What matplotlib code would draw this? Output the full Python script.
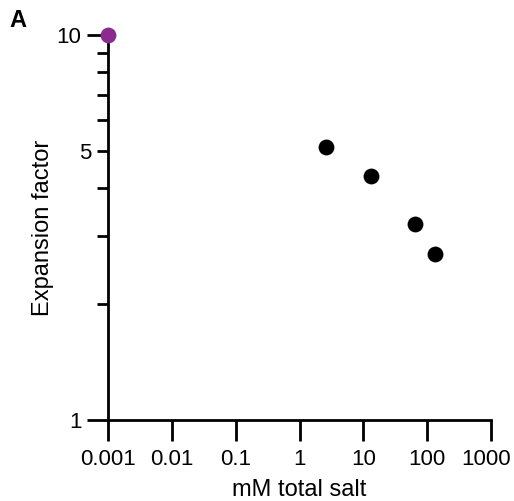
import matplotlib
matplotlib.use("Agg")
import matplotlib.pyplot as plt
from matplotlib.ticker import FixedLocator, FixedFormatter
from matplotlib.transforms import ScaledTranslation

plt.rcParams['font.family'] = ['Liberation Sans', 'DejaVu Sans']

# Data
control_salt = [0.001]
control_expansion = [10.0]
salt_mM = [2.63, 13.0, 65.0, 131.0]
expansion = [5.13, 4.30, 3.23, 2.70]

x_ticks = [0.001, 0.01, 0.1, 1, 10, 100, 1000]
x_tick_labels = ["0.001", "0.01", "0.1", "1", "10", "100", "1000"]
y_major = [1, 10]
y_major_labels = ["1", "10"]
y_minor = [2, 3, 4, 5, 6, 7, 8, 9]
y_minor_labels = ["", "", "", "5", "", "", "", ""]

fig = plt.figure(figsize=(5.14, 5.01), dpi=100)
ax = fig.add_axes([108/514, 1 - 420/501, (491 - 108)/514, (420 - 35)/501])

ax.set_xscale('log')
ax.set_yscale('log')
ax.set_xlim(0.001, 1000)
ax.set_ylim(1, 10)

ax.scatter(salt_mM, expansion, s=130, color='black', zorder=3, clip_on=False, linewidths=0)
ax.scatter(control_salt, control_expansion, s=130, color='#8B2A8F', zorder=4, clip_on=False, linewidths=0)

for s in ['top', 'right']:
    ax.spines[s].set_visible(False)
for s in ['left', 'bottom']:
    ax.spines[s].set_linewidth(2)

ax.xaxis.set_major_locator(FixedLocator(x_ticks))
ax.xaxis.set_major_formatter(FixedFormatter(x_tick_labels))
ax.xaxis.set_minor_locator(FixedLocator([]))
ax.tick_params(axis='x', which='major', length=15, width=2, labelsize=16, pad=6)

ax.yaxis.set_major_locator(FixedLocator(y_major))
ax.yaxis.set_major_formatter(FixedFormatter(y_major_labels))
ax.yaxis.set_minor_locator(FixedLocator(y_minor))
ax.yaxis.set_minor_formatter(FixedFormatter(y_minor_labels))
ax.tick_params(axis='y', which='major', length=15, width=2, labelsize=16, pad=4)
ax.tick_params(axis='y', which='minor', length=8, width=2, labelsize=16, pad=4)

ax.set_xlabel('mM total salt', fontsize=17, labelpad=6)
ax.set_ylabel('Expansion factor', fontsize=17, labelpad=2)

fig.canvas.draw()
last = ax.get_xticklabels()[-1]
last.set_transform(last.get_transform() + ScaledTranslation(-5/100, 0, fig.dpi_scale_trans))

fig.text(9/514, 1 - 27/501, 'A', fontsize=17, fontweight='bold')

fig.savefig('out.png', dpi=100)
